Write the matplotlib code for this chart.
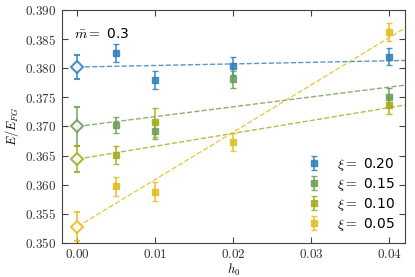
import matplotlib
matplotlib.use("Agg")
import matplotlib.pyplot as plt
import matplotlib.ticker as ticker
import numpy as np

plt.rcParams["mathtext.fontset"] = "cm"
plt.rcParams["font.family"] = "DejaVu Sans"

# data
xi_labels = ["0.20", "0.15", "0.10", "0.05"]
colors = ["#2f7fb8", "#6a9e55", "#a3ac1a", "#e2bd1e"]

h_blue = [0.005, 0.01, 0.02, 0.04]
e_blue = [0.3826, 0.3780, 0.3804, 0.3820]
err_blue = [0.0015, 0.0015, 0.0015, 0.0015]

h_green = [0.005, 0.01, 0.02, 0.04]
e_green = [0.3702, 0.3693, 0.3781, 0.3751]
err_green = [0.0014, 0.0014, 0.0015, 0.0015]

h_olive = [0.005, 0.01, 0.04]
e_olive = [0.3651, 0.3707, 0.3736]
err_olive = [0.0015, 0.0025, 0.0015]

h_yellow = [0.005, 0.01, 0.02, 0.04]
e_yellow = [0.3597, 0.3588, 0.3673, 0.3862]
err_yellow = [0.0016, 0.0016, 0.0015, 0.0015]

# extrapolated values at h0 = 0 and fit slopes
e0 = [0.3802, 0.3700, 0.3644, 0.3528]
e0_err = [0.0021, 0.0034, 0.0023, 0.0025]
slopes = [0.027, 0.169, 0.221, 0.812]

h_all = [h_blue, h_green, h_olive, h_yellow]
e_all = [e_blue, e_green, e_olive, e_yellow]
err_all = [err_blue, err_green, err_olive, err_yellow]

fig = plt.figure(figsize=(4.15, 2.77), dpi=100)
ax = fig.add_axes([0.149, 0.123, 0.827, 0.841])

x_fit = np.array([0.0, 0.045])
for i in range(4):
    c = colors[i]
    ax.plot(x_fit, e0[i] + slopes[i] * x_fit, "--", color=c, alpha=0.8, lw=1.0, zorder=1)
    ax.errorbar(h_all[i], e_all[i], yerr=err_all[i], fmt="s", color=c, ms=4,
                mfc=c, mec=c, capsize=2.5, elinewidth=1.2, capthick=1.0,
                alpha=0.85, label=r"$\xi=$ " + xi_labels[i], zorder=3)
    ax.errorbar([0.0], [e0[i]], yerr=[e0_err[i]], fmt="D", color=c, ms=6.5,
                mfc="white", mec=c, mew=1.5, capsize=2.5, elinewidth=1.2,
                capthick=1.0, alpha=0.85, zorder=4)

ax.set_xlim(-0.002, 0.042)
ax.set_ylim(0.350, 0.390)
ax.set_xticks([0.00, 0.01, 0.02, 0.03, 0.04])
ax.set_yticks(np.arange(0.350, 0.3901, 0.005))
ax.xaxis.set_major_formatter(ticker.FuncFormatter(lambda v, p: r"$%.2f$" % v))
ax.yaxis.set_major_formatter(ticker.FuncFormatter(lambda v, p: r"$%.3f$" % v))
ax.tick_params(direction="in", top=True, right=True, labelsize=9.5, length=4,
               colors="#444444", labelcolor="#333333", pad=4)
for s in ax.spines.values():
    s.set_color("#444444")

ax.set_xlabel(r"$h_0$", fontsize=9, labelpad=0)
ax.set_ylabel(r"$E/E_{FG}$", fontsize=9, labelpad=3)
ax.text(0.035, 0.88, r"$\bar{m}=$ 0.3", transform=ax.transAxes, fontsize=10)

ax.legend(loc="lower right", frameon=False, fontsize=10, handlelength=1.0,
          handletextpad=1.2, labelspacing=0.22, borderaxespad=0.3)

fig.savefig("out.png", dpi=100)
